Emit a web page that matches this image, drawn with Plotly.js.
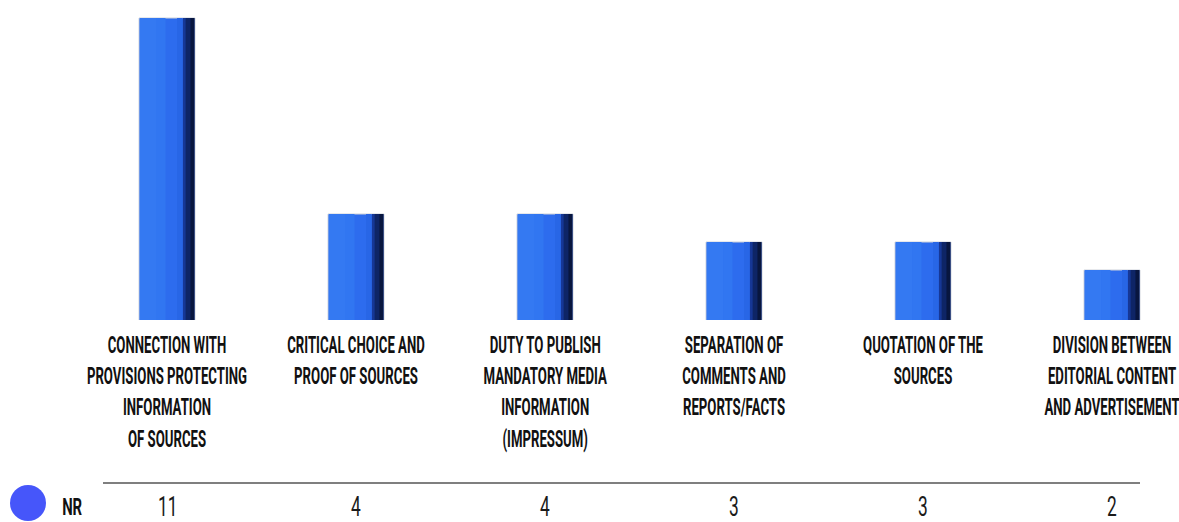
<!DOCTYPE html>
<html>
<head>
<meta charset="utf-8">
<script src="https://cdn.plot.ly/plotly-3.0.1.min.js"></script>
<style>
html,body{margin:0;padding:0;background:#fff;}
#chart{width:1179px;height:522px;}
</style>
</head>
<body>
<div id="chart"></div>
<script>
// ---- data ----
const categories = [
  "CONNECTION WITH<br>PROVISIONS PROTECTING<br>INFORMATION<br>OF SOURCES",
  "CRITICAL CHOICE AND<br>PROOF OF SOURCES",
  "DUTY TO PUBLISH<br>MANDATORY MEDIA<br>INFORMATION<br>(IMPRESSUM)",
  "SEPARATION OF<br>COMMENTS AND<br>REPORTS/FACTS",
  "QUOTATION OF THE<br>SOURCES",
  "DIVISION BETWEEN<br>EDITORIAL CONTENT<br>AND ADVERTISEMENT"
];
const seriesName = "NR";
const nrValues = [11, 4, 4, 3, 3, 2];

// ---- layout helpers ----
const W = 1179, H = 522;
const M = {l: 60, r: 20, t: 10, b: 202};
const plotW = W - M.l - M.r, plotH = H - M.t - M.b;
const px2paperX = p => (p - M.l) / plotW;
const px2paperY = p => (H - M.b - p) / plotH;
const step = 189;       // pixels per category
const firstCenter = 167;

const font = "Roboto, 'Noto Sans', sans-serif";

// 3D-ish bar built from overlaid bar traces of the same values
function barLayer(color, width, offset, line) {
  return {
    type: 'bar', x: categories, y: nrValues, name: seriesName,
    width: width, offset: offset, showlegend: false, hoverinfo: 'skip',
    marker: {color: color, line: line || {width: 0}}
  };
}
const bw = 0.296, half = bw / 2;
const traces = [
  barLayer('#2d6cee', bw, -half, {color: '#cfd3db', width: 1}),
  barLayer('#3479f2', 0.09, -half + 0.004),
  barLayer('#3176f1', 0.05, -half + 0.09),
  barLayer('#2866e6', 0.03, half - 0.095),
  barLayer('#163796', 0.016, half - 0.064),
  barLayer('#0e2566', 0.03, half - 0.05),
  barLayer('#08163f', 0.022, half - 0.024)
];

const annotations = categories.map((c, i) => ({
  xref: 'x', yref: 'paper', x: c, y: px2paperY(506),
  text: String(nrValues[i]), showarrow: false, xanchor: 'center', yanchor: 'middle',
  font: {family: font, size: 28, color: '#1a1a1a'}
}));
annotations.push({
  xref: 'paper', yref: 'paper', x: px2paperX(72), y: px2paperY(507),
  text: seriesName, showarrow: false, xanchor: 'center', yanchor: 'middle',
  font: {family: font, size: 24, color: '#111', weight: 'bold'}
});

const layout = {
  width: W, height: H,
  margin: M,
  paper_bgcolor: '#fff', plot_bgcolor: '#fff',
  barmode: 'overlay',
  showlegend: false,
  xaxis: {
    type: 'category',
    range: [-(firstCenter - M.l) / step, -(firstCenter - M.l) / step + plotW / step],
    showgrid: false, zeroline: false, showline: false, ticks: '',
    ticklabelstandoff: 8,
    tickfont: {family: font, size: 24, color: '#111', weight: 'bold'},
    tickangle: 0, fixedrange: true
  },
  yaxis: {
    range: [0.214, 0.214 + plotH / 28],
    visible: false, showgrid: false, zeroline: false, fixedrange: true
  },
  shapes: [
    {type: 'line', xref: 'paper', yref: 'paper',
     x0: px2paperX(103), x1: px2paperX(1140), y0: px2paperY(483), y1: px2paperY(483),
     line: {color: '#555', width: 1.5}},
    {type: 'circle', xref: 'paper', yref: 'paper', xsizemode: 'pixel', ysizemode: 'pixel',
     xanchor: px2paperX(28), yanchor: px2paperY(503),
     x0: -18, x1: 18, y0: -18, y1: 18,
     fillcolor: '#4656fa', line: {width: 0}}
  ],
  annotations: annotations
};

// condense text horizontally around its own centre (mimics a condensed display face)
function condense(sel, s) {
  document.querySelectorAll(sel).forEach(t => {
    const b = t.getBBox();
    const cx = b.x + b.width / 2;
    const tr = t.getAttribute('transform') || '';
    t.setAttribute('transform', tr + ` translate(${cx},0) scale(${s},1) translate(${-cx},0)`);
  });
}

Plotly.newPlot('chart', traces, layout, {displayModeBar: false, staticPlot: true}).then(() => {
  condense('#chart .xtick text', 0.55);
  condense('#chart .annotation-text', 0.62);
});
</script>
</body>
</html>
